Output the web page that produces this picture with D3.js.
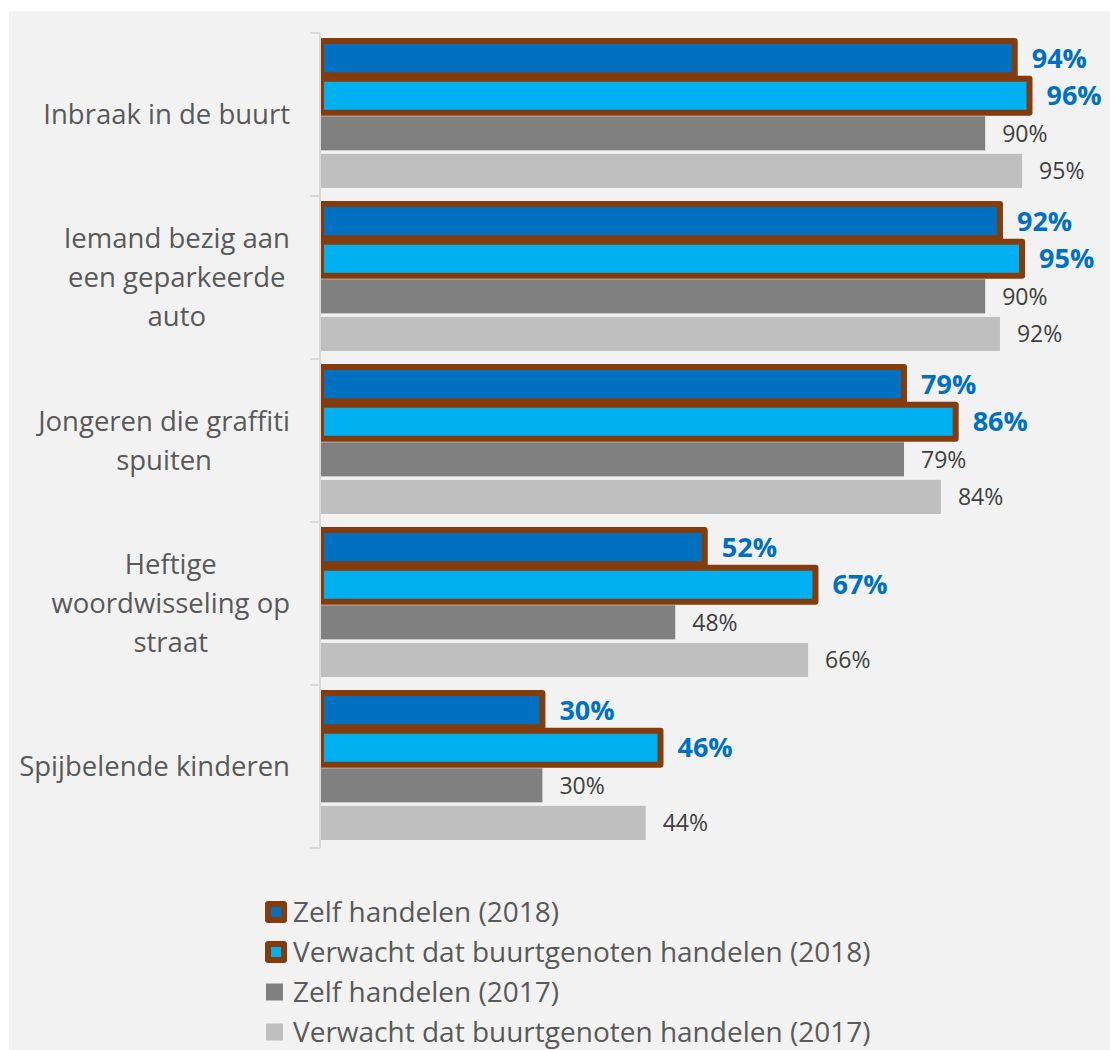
<!DOCTYPE html>
<html>
<head>
<meta charset="utf-8">
<script src="https://cdn.jsdelivr.net/npm/d3@7"></script>
<style>
  html, body { margin: 0; padding: 0; background: #ffffff; }
  svg { display: block; font-family: "Open Sans", sans-serif; }
</style>
</head>
<body>
<svg id="chart" width="1110" height="1050"></svg>
<script>
// Categories (line breaks mark how the axis labels wrap)
const categories = [
  "Inbraak in de buurt",
  "Iemand bezig aan\neen geparkeerde\nauto",
  "Jongeren die graffiti\nspuiten",
  "Heftige\nwoordwisseling op\nstraat",
  "Spijbelende kinderen"
];

// Series values, in percent
const zelf2018 = [94, 92, 79, 52, 30];
const buur2018 = [96, 95, 86, 67, 46];
const zelf2017 = [90, 90, 79, 48, 30];
const buur2017 = [95, 92, 84, 66, 44];

const seriesNames = [
  "Zelf handelen (2018)",
  "Verwacht dat buurtgenoten handelen (2018)",
  "Zelf handelen (2017)",
  "Verwacht dat buurtgenoten handelen (2017)"
];
const seriesValues = [zelf2018, buur2018, zelf2017, buur2017];
const seriesFill = ["#0070C0", "#00B0F0", "#808080", "#BFBFBF"];
const seriesOutlined = [true, true, false, false];
const outline = "#843C0C";

const svg = d3.select("#chart");

// panel background
svg.append("rect")
  .attr("x", 9).attr("y", 11)
  .attr("width", 1110 - 9).attr("height", 1050 - 11)
  .attr("fill", "#F2F2F2");

const x = d3.scaleLinear().domain([0, 100]).range([321, 1059]);
const y = d3.scaleBand().domain(d3.range(categories.length)).range([33, 848]);
const ySeries = d3.scaleBand().domain(d3.range(seriesNames.length))
  .range([0, y.bandwidth()])
  .paddingInner(0.093)
  .paddingOuter(0.213);

// plot area clip (bars' outlines do not spill left of the axis)
svg.append("clipPath").attr("id", "plot-clip")
  .append("rect")
  .attr("x", x(0)).attr("y", 0)
  .attr("width", 1110 - x(0)).attr("height", 1050);

// category axis
const axis = svg.append("g").attr("transform", `translate(${x(0) - 1},0)`);
axis.append("line")
  .attr("x1", 0).attr("x2", 0)
  .attr("y1", y.range()[0]).attr("y2", y.range()[1])
  .attr("stroke", "#D9D9D9").attr("stroke-width", 2);
const tickYs = categories.map((_, i) => y(i)).concat([y.range()[1]]);
axis.selectAll("line.tick").data(tickYs).join("line")
  .attr("class", "tick")
  .attr("x1", -10).attr("x2", 0)
  .attr("y1", d => d).attr("y2", d => d)
  .attr("stroke", "#D9D9D9").attr("stroke-width", 2);

// category labels: block right-aligned, lines centred within the block
const labelRight = 290;
const lineH = 39;
categories.forEach((c, i) => {
  const lines = c.split("\n");
  const g = svg.append("g");
  const texts = g.selectAll("text").data(lines).join("text")
    .attr("font-size", 27.5)
    .attr("fill", "#595959")
    .attr("text-anchor", "middle")
    .text(d => d);
  let maxW = 0;
  texts.each(function () { maxW = Math.max(maxW, this.getComputedTextLength()); });
  const cy = y(i) + y.bandwidth() / 2;
  const cx = labelRight - maxW / 2;
  texts.attr("x", cx)
    .attr("y", (d, j) => cy + (j - (lines.length - 1) / 2) * lineH)
    .attr("dy", "0.35em");
});

// bars
const barLayer = svg.append("g").attr("clip-path", "url(#plot-clip)");
seriesValues.forEach((vals, s) => {
  barLayer.append("g").selectAll("rect").data(vals).join("rect")
    .attr("x", x(0))
    .attr("y", (d, i) => y(i) + ySeries(s))
    .attr("width", d => x(d) - x(0))
    .attr("height", ySeries.bandwidth())
    .attr("fill", seriesFill[s])
    .attr("stroke", seriesOutlined[s] ? outline : "none")
    .attr("stroke-width", seriesOutlined[s] ? 6 : 0)
    .attr("stroke-linejoin", "round");
});

// value labels
seriesValues.forEach((vals, s) => {
  const bold = seriesOutlined[s];
  svg.append("g").selectAll("text").data(vals).join("text")
    .attr("x", d => x(d) + 17)
    .attr("y", (d, i) => y(i) + ySeries(s) + ySeries.bandwidth() / 2)
    .attr("dy", "0.36em")
    .attr("font-size", bold ? 27 : 23)
    .attr("font-weight", bold ? 700 : 400)
    .attr("fill", bold ? "#0070C0" : "#404040")
    .text(d => d + "%");
});

// legend
const legend = svg.append("g");
seriesNames.forEach((name, s) => {
  const cy = 912 + s * 40;
  if (seriesOutlined[s]) {
    legend.append("rect")
      .attr("x", 268).attr("y", cy - 8)
      .attr("width", 16).attr("height", 16)
      .attr("fill", seriesFill[s])
      .attr("stroke", outline).attr("stroke-width", 6)
      .attr("stroke-linejoin", "round");
  } else {
    legend.append("rect")
      .attr("x", 266).attr("y", cy - 8.5)
      .attr("width", 17).attr("height", 17)
      .attr("fill", seriesFill[s]);
  }
  legend.append("text")
    .attr("x", 293).attr("y", cy)
    .attr("dy", "0.36em")
    .attr("font-size", 28)
    .attr("fill", "#595959")
    .text(name);
});
</script>
</body>
</html>
